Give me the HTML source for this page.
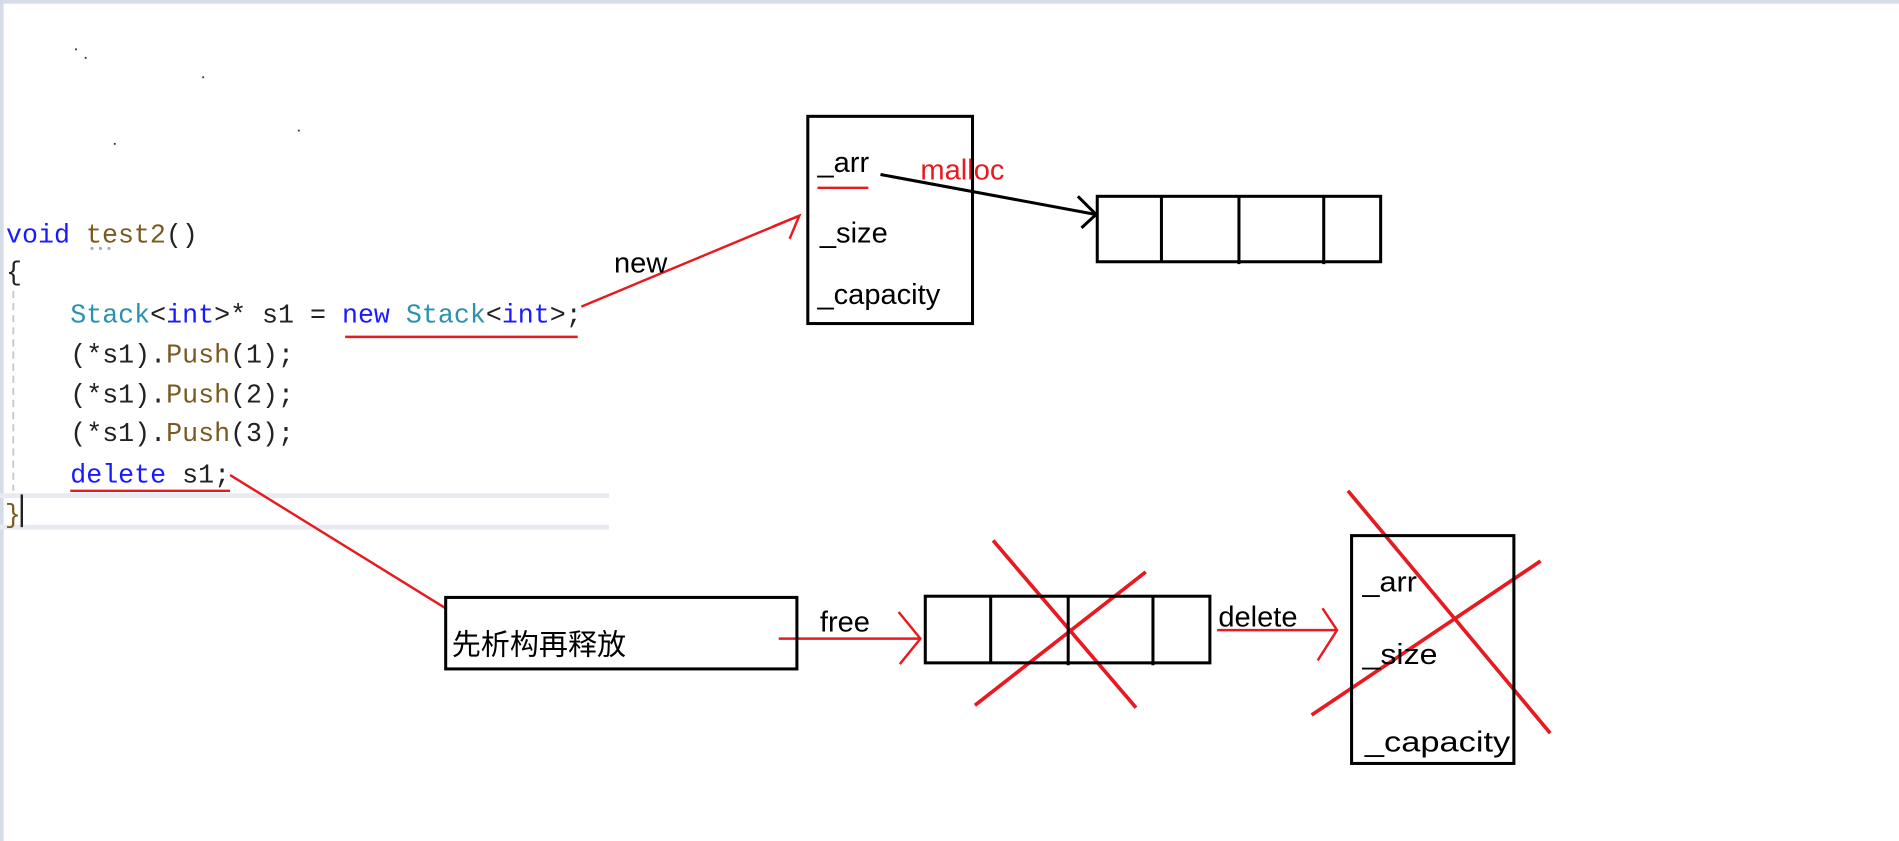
<!DOCTYPE html>
<html><head><meta charset="utf-8"><style>
html,body{margin:0;padding:0;background:#fff;overflow:hidden}
svg{display:block}
.code{font-family:"Liberation Mono","Noto Sans CJK SC",monospace;font-size:22px}
.s{font-family:"Liberation Sans","Noto Sans CJK SC",sans-serif;font-size:24px}
</style></head><body>
<svg width="1899" height="841" viewBox="0 0 1568 694" preserveAspectRatio="none" xmlns="http://www.w3.org/2000/svg">
<rect x="0" y="0" width="1568" height="3" fill="#d5dce8"/>
<rect x="0" y="0" width="3" height="694" fill="#d5dce8"/>
<g fill="#333"><rect x="62" y="40" width="1.5" height="1.5"/><rect x="70" y="47" width="1.5" height="1.5"/><rect x="167" y="63" width="1.5" height="1.5"/><rect x="94" y="118" width="1.5" height="1.5"/><rect x="246" y="107" width="1.5" height="1.5"/></g>
<!-- code -->
<rect x="0" y="407" width="503" height="4" fill="#e9e9f1"/>
<rect x="0" y="433" width="503" height="4" fill="#e9e9f1"/>
<line x1="11" y1="240" x2="11" y2="405" stroke="#c8c8c8" stroke-width="1.5" stroke-dasharray="6,4"/>
<text class="code" x="5" y="200"><tspan fill="#1a1aff">void</tspan> <tspan fill="#7a5a20">test2</tspan><tspan fill="#222">()</tspan></text>
<g fill="#aaa"><circle cx="76" cy="205" r="1.3"/><circle cx="83" cy="205" r="1.3"/><circle cx="90" cy="205" r="1.3"/></g>
<text class="code" x="5" y="231" fill="#222">{</text>
<text class="code" x="58" y="266"><tspan fill="#2b91af">Stack</tspan><tspan fill="#222">&lt;</tspan><tspan fill="#1a1aff">int</tspan><tspan fill="#222">&gt;* s1 = </tspan><tspan fill="#1a1aff">new</tspan> <tspan fill="#2b91af">Stack</tspan><tspan fill="#222">&lt;</tspan><tspan fill="#1a1aff">int</tspan><tspan fill="#222">&gt;;</tspan></text>
<text class="code" x="58" y="299" fill="#222">(*s1).<tspan fill="#7a5a20">Push</tspan>(1);</text>
<text class="code" x="58" y="332" fill="#222">(*s1).<tspan fill="#7a5a20">Push</tspan>(2);</text>
<text class="code" x="58" y="364" fill="#222">(*s1).<tspan fill="#7a5a20">Push</tspan>(3);</text>
<text class="code" x="58" y="398"><tspan fill="#1a1aff">delete</tspan><tspan fill="#222"> s1;</tspan></text>
<text class="code" x="4" y="431" fill="#7a5a20">}</text>
<rect x="17" y="408" width="2" height="27" fill="#222"/>
<!-- red annotations -->
<g stroke="#e8191f" stroke-width="2" fill="none">
<line x1="285" y1="278" x2="477" y2="278"/>
<line x1="58" y1="405" x2="190" y2="405"/>
<line x1="480" y1="253" x2="660" y2="178"/>
<polyline points="638,187 660,178 652,197"/>
<line x1="675" y1="155" x2="717" y2="155"/>
<line x1="190" y1="392" x2="368" y2="502"/>
<line x1="643" y1="527" x2="760" y2="527"/>
<polyline points="742,505 760,527 743,548"/>
<line x1="1005" y1="520" x2="1104" y2="520"/>
<polyline points="1092,502 1104,520 1088,545"/>
</g>
<g stroke="#e8191f" stroke-width="3" fill="none">
<line x1="820" y1="446" x2="938" y2="584"/>
<line x1="946" y1="472" x2="805" y2="582"/>
<line x1="1113" y1="405" x2="1280" y2="605"/>
<line x1="1272" y1="463" x2="1083" y2="590"/>
</g>
<text class="s" x="507" y="225" fill="#000">new</text>
<text class="s" x="760" y="148" fill="#e8191f">malloc</text>
<text class="s" x="677" y="521" fill="#000">free</text>
<text class="s" x="1006" y="517" fill="#000">delete</text>
<!-- box 1 -->
<g stroke="#000" stroke-width="2.5" fill="none">
<rect x="667" y="96" width="136" height="171"/>
<rect x="906" y="162" width="234" height="54"/>
<line x1="959" y1="162" x2="959" y2="216"/>
<line x1="1023" y1="162" x2="1023" y2="218"/>
<line x1="1093" y1="162" x2="1093" y2="218"/>
<line x1="727" y1="144" x2="905" y2="177"/>
<polyline points="890,162 905,177 893,188"/>
<rect x="368" y="493" width="290" height="59"/>
<rect x="764" y="492" width="235" height="55"/>
<line x1="818" y1="492" x2="818" y2="547"/>
<line x1="882" y1="492" x2="882" y2="549"/>
<line x1="952" y1="492" x2="952" y2="549"/>
<rect x="1116" y="442" width="134" height="188"/>
</g>
<text class="s" x="675" y="142">_arr</text>
<text class="s" x="677" y="200">_size</text>
<text class="s" x="675" y="251">_capacity</text>
<text class="s" x="373" y="540">先析构再释放</text>
<text class="s" x="1125" y="488" textLength="45" lengthAdjust="spacingAndGlyphs">_arr</text>
<text class="s" x="1125" y="548" textLength="62" lengthAdjust="spacingAndGlyphs">_size</text>
<text class="s" x="1127" y="620" textLength="120" lengthAdjust="spacingAndGlyphs">_capacity</text>
</svg>
</body></html>
